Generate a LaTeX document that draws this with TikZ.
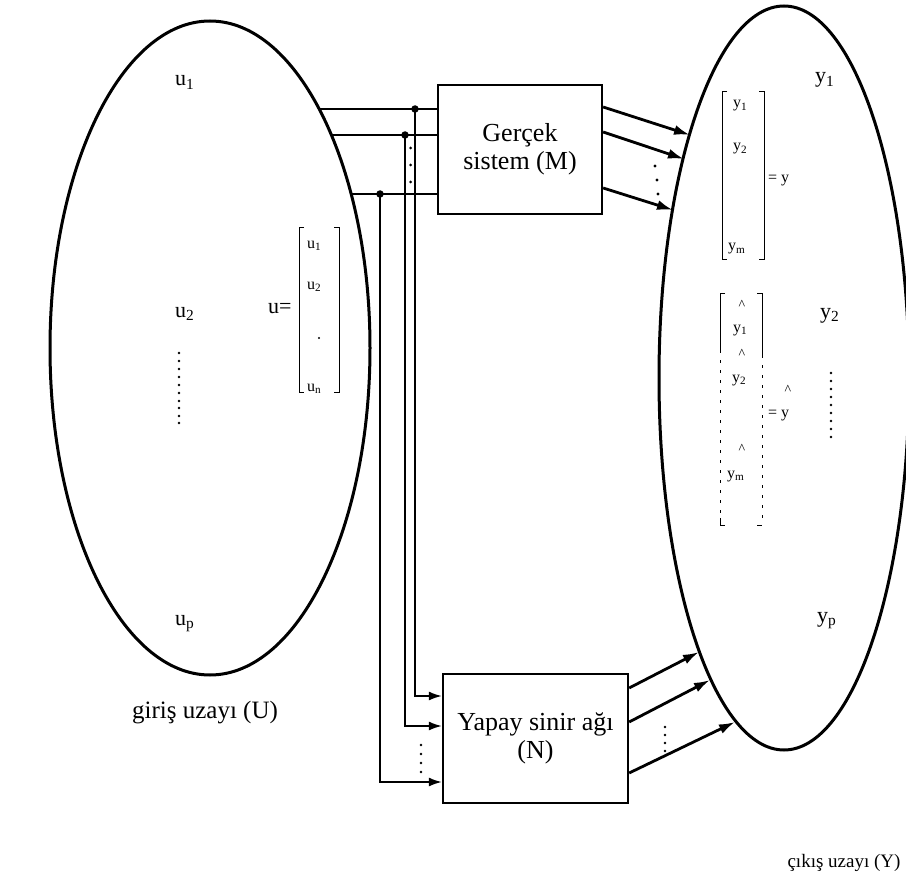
\documentclass[tikz,border=0pt]{standalone}
\usepackage{fontspec}
\setmainfont{Liberation Serif}
\usetikzlibrary{arrows.meta,shapes.geometric}
\begin{document}
\tikzset{
 sp/.style={draw, ellipse, line width=3pt, inner sep=0pt},
 blk/.style={draw, line width=2.3pt, inner sep=0pt, align=center, font=\fontsize{26}{28}\selectfont},
 wire/.style={line width=2.4pt},
 arr/.style={line width=2.8pt, -{Latex[length=16pt,width=10pt]}},
 inarr/.style={line width=1.7pt, -{Latex[length=13pt,width=9pt]}},
 jdot/.style={circle, fill, inner sep=0pt, minimum size=7.5pt},
 lab/.style={font=\fontsize{22}{22}\selectfont, inner sep=0pt, anchor=base west},
 ment/.style={font=\fontsize{16}{16}\selectfont, inner sep=0pt, anchor=base west},
 hatm/.style={font=\fontsize{14}{14}\selectfont, inner sep=0pt},
 big/.style={inner sep=0pt, anchor=base},
 brk/.style={line width=1pt},
}
\begin{tikzpicture}[x=1pt,y=-1pt]
\path[use as bounding box] (0,0) rectangle (906,872);
\fill[white] (0,0) rectangle (906,872);

% spaces
\node[sp, minimum width=320pt, minimum height=654pt] (U) at (210,348) {};
\node[sp, minimum width=250pt, minimum height=744pt] (Y) at (784,378) {};

% blocks
\node[blk, minimum width=164pt, minimum height=129pt] (M) at (520,149.5) {Gerçek\\sistem (M)};
\node[blk, minimum width=185pt, minimum height=129pt] (N) at (535.5,738.5) {Yapay sinir ağı\\(N)};

% inputs from U
\coordinate (a1) at (320,109);
\coordinate (a2) at (332,135);
\coordinate (a3) at (351,194);
\draw[wire] (a1) -- (a1 -| M.west);
\draw[wire] (a2) -- (a2 -| M.west);
\draw[wire] (a3) -- (a3 -| M.west);

\node[jdot] (j1) at (415,109) {};
\node[jdot] (j2) at (405,135) {};
\node[jdot] (j3) at (380,194) {};
\coordinate (b1) at (415,696);
\coordinate (b2) at (405,726);
\coordinate (b3) at (380,782);
\draw[inarr] (j1.center) -- (b1) -- (b1 -| N.west);
\draw[inarr] (j2.center) -- (b2) -- (b2 -| N.west);
\draw[inarr] (j3.center) -- (b3) -- (b3 -| N.west);

\foreach \yy in {148,165,182} \fill (410.5,\yy) circle (1.5pt);
\foreach \yy in {745,754,763,772} \fill (421,\yy) circle (1.4pt);

% outputs of M
\coordinate (t1) at (690,135);
\coordinate (t2) at (684,159);
\coordinate (t3) at (673,210);
\draw[arr] ([yshift=42.5pt]M.east) -- (t1);
\draw[arr] ([yshift=17.5pt]M.east) -- (t2);
\draw[arr] ([yshift=-38.5pt]M.east) -- (t3);
\foreach \p in {(655,166),(657,180),(658,194)} \fill \p circle (1.7pt);

% outputs of N
\coordinate (t4) at (699,652);
\coordinate (t5) at (710,680);
\coordinate (t6) at (735,722);
\draw[arr] ([yshift=50.5pt]N.east) -- (t4);
\draw[arr] ([yshift=16.5pt]N.east) -- (t5);
\draw[arr] ([yshift=-34.5pt]N.east) -- (t6);
\foreach \yy in {727,735,743,751} \fill (665,\yy) circle (1.4pt);

% labels in U
\node[lab] (u1) at (175,86) {u\textsubscript{1}};
\node[lab] (u2) at (175,317) {u\textsubscript{2}};
\node[lab] (up) at (175,625) {u\textsubscript{p}};
\foreach \yy in {353,361,369,377,385,393,401,408,416,423} \fill (179,\yy) circle (1.3pt);

\node[lab] (ueq) at (268,313) {u=};
\draw[brk] (304,228) -- (299,228) -- (299,392) -- (304,392);
\draw[brk] (334,228) -- (339,228) -- (339,392) -- (334,392);
\node[ment] (mu1) at (307,248) {u\textsubscript{1}};
\node[ment] (mu2) at (307,289) {u\textsubscript{2}};
\fill (319,338) circle (1.2pt);
\node[ment] (mun) at (307,391) {u\textsubscript{n}};

% labels in Y
\node[lab] (y1) at (815,83) {y\textsubscript{1}};
\node[lab] (y2) at (820,318) {y\textsubscript{2}};
\node[lab] (yp) at (817,622) {y\textsubscript{p}};
\foreach \yy in {373,381,389,397,405,413,421,429,437} \fill (831,\yy) circle (1.3pt);

% y vector
\draw[brk] (727,92) -- (722,92) -- (722,260) -- (727,260);
\draw[brk] (759,92) -- (764,92) -- (764,260) -- (759,260);
\node[ment] (my1) at (733,108) {y\textsubscript{1}};
\node[ment] (my2) at (733,151) {y\textsubscript{2}};
\node[ment] (mym) at (728,251) {y\textsubscript{m}};
\node[ment] (yeq) at (768,183) {= y};

% y-hat vector
\draw[brk] (725,293) -- (720,293) -- (720,350);
\draw[brk, dash pattern=on 3pt off 7pt] (720,350) -- (720,520);
\draw[brk] (720,518) -- (720,525) -- (725,525);
\draw[brk] (757,293) -- (762,293) -- (762,355);
\draw[brk, dash pattern=on 3pt off 7pt] (762,355) -- (762,520);
\draw[brk] (757,525) -- (762,525);
\node[hatm] (h1) at (742,305) {\textasciicircum};
\node[ment] (mh1) at (733,332) {y\textsubscript{1}};
\node[hatm] (h2) at (742,354) {\textasciicircum};
\node[ment] (mh2) at (732,382) {y\textsubscript{2}};
\node[hatm] (h3) at (742,449) {\textasciicircum};
\node[ment] (mhm) at (727,478) {y\textsubscript{m}};
\node[ment] (heq) at (768,417) {= y};
\node[hatm] (h4) at (788,390) {\textasciicircum};

% captions
\node[big, font=\fontsize{25}{25}\selectfont] (capU) at (205,718) {giriş uzayı (U)};
\node[big, font=\fontsize{19}{19}\selectfont] (capY) at (844,867) {çıkış uzayı (Y)};
\end{tikzpicture}
\end{document}
